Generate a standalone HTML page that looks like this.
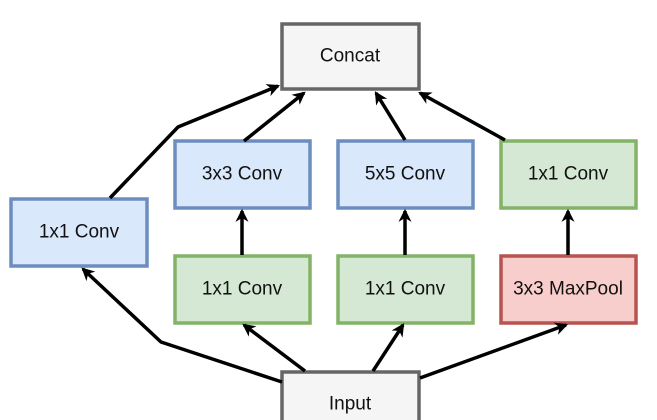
<!DOCTYPE html>
<html><head><style>
html,body{margin:0;padding:0;background:#fff;}
svg{display:block;}
text{font-family:"Liberation Sans",sans-serif;font-size:19px;fill:#111;text-anchor:middle;dominant-baseline:central;}
</style></head><body>
<svg width="657" height="420" viewBox="0 0 657 420" xmlns="http://www.w3.org/2000/svg">
<defs>
<marker id="a" markerWidth="13" markerHeight="13" refX="10" refY="6" orient="auto" markerUnits="userSpaceOnUse" viewBox="0 0 12 12">
<path d="M0,0 L12,6 L0,12 L3.5,6 Z" fill="#000"/>
</marker>
</defs>
<g stroke-width="3.5">
<rect x="282" y="24" width="137" height="65" fill="#f5f5f5" stroke="#666"/>
<rect x="175" y="141" width="135" height="67" fill="#dae8fc" stroke="#6c8ebf"/>
<rect x="338" y="141" width="135" height="67" fill="#dae8fc" stroke="#6c8ebf"/>
<rect x="501" y="141" width="135" height="67" fill="#d5e8d4" stroke="#82b366"/>
<rect x="11" y="199" width="136" height="67" fill="#dae8fc" stroke="#6c8ebf"/>
<rect x="175" y="256" width="135" height="67" fill="#d5e8d4" stroke="#82b366"/>
<rect x="338" y="256" width="135" height="67" fill="#d5e8d4" stroke="#82b366"/>
<rect x="501" y="256" width="135" height="67" fill="#f8cecc" stroke="#b85450"/>
<rect x="282" y="372" width="137" height="60" fill="#f5f5f5" stroke="#666"/>
</g>
<g fill="none" stroke="#000" stroke-width="3.5" marker-end="url(#a)">
<polyline points="110,198 178,127 278,86"/>
<line x1="244" y1="141" x2="304" y2="93"/>
<line x1="405" y1="140" x2="376" y2="93"/>
<line x1="505" y1="140" x2="420" y2="93"/>
<line x1="242" y1="255" x2="242" y2="211"/>
<line x1="405" y1="255" x2="405" y2="211"/>
<line x1="568" y1="255" x2="568" y2="211"/>
<polyline points="282,382 161,342 83,269"/>
<line x1="305" y1="371" x2="244" y2="325"/>
<line x1="373" y1="371" x2="403" y2="325"/>
<line x1="420" y1="378" x2="566" y2="325"/>
</g>
<text x="350" y="56">Concat</text>
<text x="242" y="174">3x3 Conv</text>
<text x="405" y="174">5x5 Conv</text>
<text x="568" y="174">1x1 Conv</text>
<text x="79" y="232">1x1 Conv</text>
<text x="242" y="289">1x1 Conv</text>
<text x="405" y="289">1x1 Conv</text>
<text x="568" y="289">3x3 MaxPool</text>
<text x="350" y="404">Input</text>
</svg>
</body></html>
